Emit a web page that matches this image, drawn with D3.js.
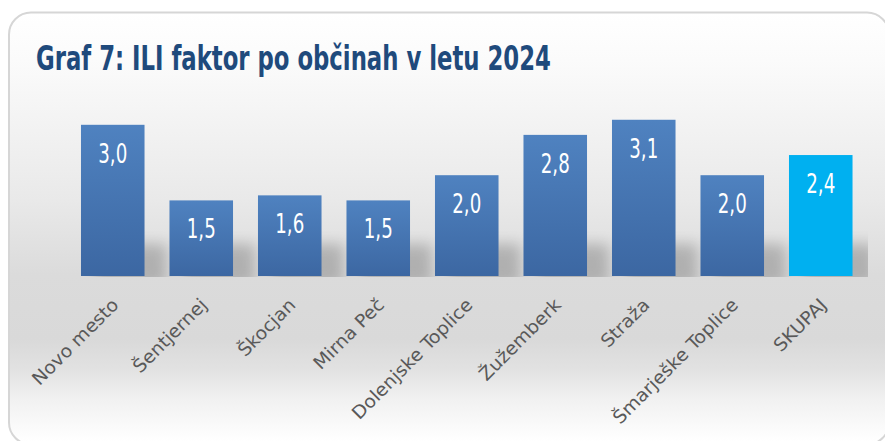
<!DOCTYPE html>
<html>
<head>
<meta charset="utf-8">
<script src="https://cdn.jsdelivr.net/npm/d3@7"></script>
<style>
html,body{margin:0;padding:0;background:#fff;}
svg{display:block;}
</style>
</head>
<body>
<svg id="chart" width="885" height="441"></svg>
<script>
const categories = ["Novo mesto","Šentjernej","Škocjan","Mirna Peč","Dolenjske Toplice","Žužemberk","Straža","Šmarješke Toplice","SKUPAJ"];
const values = [3.0, 1.5, 1.6, 1.5, 2.0, 2.8, 3.1, 2.0, 2.4];
const valueLabels = ["3,0","1,5","1,6","1,5","2,0","2,8","3,1","2,0","2,4"];
const titleText = "Graf 7: ILI faktor po občinah v letu 2024";

const svg = d3.select("#chart");
const defs = svg.append("defs");

const bg = defs.append("linearGradient").attr("id","bg")
  .attr("gradientUnits","userSpaceOnUse").attr("x1",0).attr("y1",12).attr("x2",0).attr("y2",441);
[[12,"#ffffff"],[60,"#fbfbfb"],[100,"#f6f6f6"],[200,"#e9e9e9"],[275,"#dbdbdb"],[340,"#d9d9d9"],[370,"#e2e2e2"],[400,"#f1f1f1"],[441,"#ffffff"]]
  .forEach(([y,c]) => bg.append("stop").attr("offset",((y-12)/(441-12))).attr("stop-color",c));

const barGrad = defs.append("linearGradient").attr("id","barGrad").attr("x1",0).attr("y1",0).attr("x2",0).attr("y2",1);
barGrad.append("stop").attr("offset",0).attr("stop-color","#4f82c0");
barGrad.append("stop").attr("offset",1).attr("stop-color","#3c67a2");

const blur = defs.append("filter").attr("id","shadow").attr("x","-50%").attr("y","-50%").attr("width","200%").attr("height","200%");
blur.append("feGaussianBlur").attr("stdDeviation",7);

defs.append("clipPath").attr("id","plotClip").append("rect").attr("x",10).attr("y",90).attr("width",858).attr("height",187);

// card
svg.append("rect").attr("x",9).attr("y",12.5).attr("width",880).attr("height",432).attr("rx",22)
  .attr("fill","url(#bg)").attr("stroke","#d6d6d6").attr("stroke-width",2);

// title
const title = svg.append("text").text(titleText)
  .attr("font-family","'DejaVu Sans Condensed','DejaVu Sans',sans-serif")
  .attr("font-stretch","condensed").attr("font-weight","bold")
  .attr("font-size",33).attr("fill","#1f4a7c");
const tw = title.node().getComputedTextLength();
title.attr("transform",`translate(36,70) scale(${515/tw},1)`);

const x = d3.scaleBand().domain(categories).range([68.5,865]).paddingInner(0.282).paddingOuter(0.141);
const y = d3.scaleLinear().domain([0,3.5]).range([276,99.6]);

const data = categories.map((c,i)=>({c, v:values[i], l:valueLabels[i], last: i===categories.length-1}));

// shadows
svg.append("g").attr("clip-path","url(#plotClip)").selectAll("rect").data(data).join("rect")
  .attr("x", d => x(d.c)+14).attr("y", y(0)-32).attr("width", x.bandwidth()+8).attr("height", 40)
  .attr("fill","#000").attr("opacity",0.2).attr("filter","url(#shadow)");

// bars
svg.append("g").selectAll("rect").data(data).join("rect")
  .attr("x", d => x(d.c)).attr("y", d => y(d.v)).attr("width", x.bandwidth()).attr("height", d => y(0)-y(d.v))
  .attr("fill", d => d.last ? "#00b0f0" : "url(#barGrad)");

// value labels
const vl = svg.append("g").selectAll("text").data(data).join("text")
  .text(d => d.l)
  .attr("font-family","'DejaVu Sans Condensed','DejaVu Sans',sans-serif")
  .attr("font-stretch","condensed")
  .attr("font-size",26).attr("fill","#ffffff").attr("text-anchor","middle");
const sw = vl.nodes()[0].getComputedTextLength();
const vs = 29/sw;
vl.attr("transform", d => `translate(${x(d.c)+x.bandwidth()/2},${y(d.v)+38}) scale(${vs},1)`);

// category labels
const cl = svg.append("g").selectAll("text").data(data).join("text")
  .text(d => d.c)
  .attr("font-family","'DejaVu Sans Condensed','DejaVu Sans',sans-serif")
  .attr("font-stretch","condensed")
  .attr("font-size",18).attr("fill","#595959").attr("text-anchor","end");
const cw0 = cl.nodes()[0].getComputedTextLength();
const cw8 = cl.nodes()[8].getComputedTextLength();
const cs = (107/cw0 + 70/cw8) / 2;
cl.attr("transform", d => `translate(${x(d.c)+x.bandwidth()/2+7},${y(0)+30}) rotate(-45) scale(${cs},1)`);
</script>
</body>
</html>
